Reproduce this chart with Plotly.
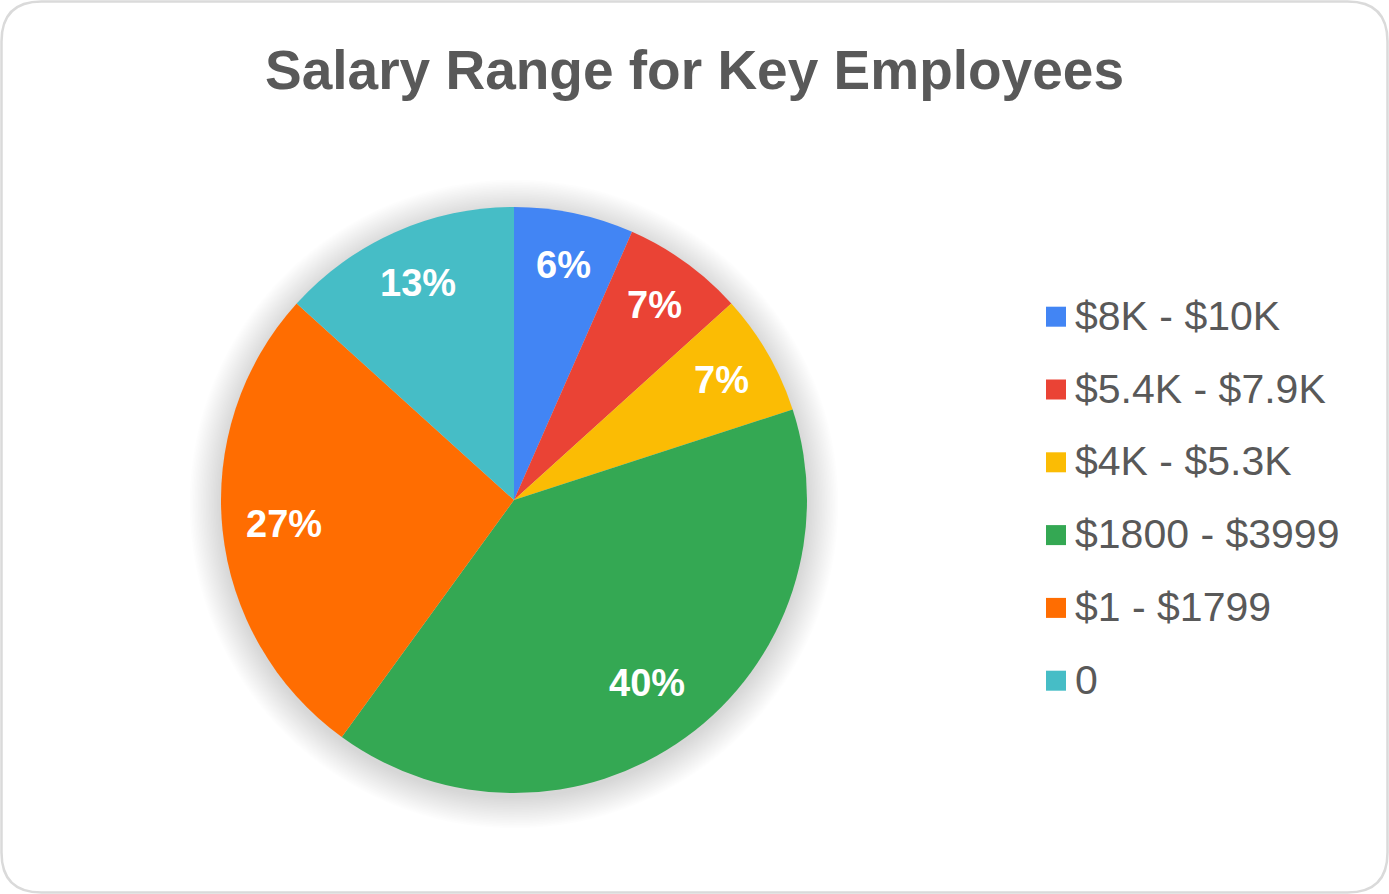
import math
import plotly.graph_objects as go

W, H = 1389, 894

categories = ["$8K - $10K", "$5.4K - $7.9K", "$4K - $5.3K", "$1800 - $3999", "$1 - $1799", "0"]
shares = [6.6, 6.7, 6.7, 40.0, 26.7, 13.3]
share_labels = ["6%", "7%", "7%", "40%", "27%", "13%"]
colors = ["#4285F4", "#EA4335", "#FBBC04", "#34A853", "#FF6D01", "#46BDC6"]
title_text = "Salary Range for Key Employees"

FONT = "Liberation Sans, Arial, sans-serif"

# pie geometry in pixels
cx, cy, R = 514, 500, 293

def px(x):
    return x / W

def py(y):
    return 1 - y / H

fig = go.Figure()
fig.add_trace(go.Pie(
    labels=categories,
    values=shares,
    textinfo="none",
    marker=dict(colors=colors, line=dict(width=0)),
    sort=False,
    direction="clockwise",
    rotation=0,
    showlegend=False,
    hoverinfo="label+percent",
    domain=dict(x=[px(cx - R), px(cx + R)], y=[py(cy + R), py(cy - R)]),
))

shapes = []
annotations = []

# soft shadow around the pie
for i in range(20):
    r = R + 1 + i * 1.6
    shapes.append(dict(
        type="circle", xref="paper", yref="paper", layer="below",
        x0=px(cx - r), x1=px(cx + r), y0=py(cy + 4 + r), y1=py(cy + 4 - r),
        fillcolor="rgba(0,0,0,0.0075)", line=dict(width=0),
    ))

# slice labels placed at the middle angle of each slice, computed from the data
total = sum(shares)
cum = 0.0
for val, lab in zip(shares, share_labels):
    frac = val / total
    mid = (cum + val / 2) / total * 2 * math.pi
    cum += val
    rf = 0.83 - 0.15 * frac  # larger slices sit slightly closer to the centre
    lx = cx + rf * R * math.sin(mid)
    ly = cy - rf * R * math.cos(mid)
    annotations.append(dict(
        xref="paper", yref="paper", x=px(lx), y=py(ly),
        xanchor="center", yanchor="middle", showarrow=False, text=lab,
        font=dict(family=FONT, size=38, color="white", weight="bold"),
    ))

# rounded border
rr = 40
x0b, y0b, x1b, y1b = 1.5, 1.5, W - 1.5, H - 1.5
path = (
    f"M {px(x0b + rr)},{py(y0b)} L {px(x1b - rr)},{py(y0b)} "
    f"Q {px(x1b)},{py(y0b)} {px(x1b)},{py(y0b + rr)} "
    f"L {px(x1b)},{py(y1b - rr)} Q {px(x1b)},{py(y1b)} {px(x1b - rr)},{py(y1b)} "
    f"L {px(x0b + rr)},{py(y1b)} Q {px(x0b)},{py(y1b)} {px(x0b)},{py(y1b - rr)} "
    f"L {px(x0b)},{py(y0b + rr)} Q {px(x0b)},{py(y0b)} {px(x0b + rr)},{py(y0b)} Z"
)
shapes.append(dict(type="path", xref="paper", yref="paper", path=path,
                   line=dict(color="#DADADA", width=2.5), layer="above"))

# custom legend
leg_x, leg_y0, leg_dy, sq = 1046, 316.7, 72.8, 20
for i, (cat, col) in enumerate(zip(categories, colors)):
    yc = leg_y0 + i * leg_dy
    shapes.append(dict(type="rect", xref="paper", yref="paper",
                       x0=px(leg_x), x1=px(leg_x + sq), y0=py(yc + sq / 2), y1=py(yc - sq / 2),
                       fillcolor=col, line=dict(width=0)))
    annotations.append(dict(
        xref="paper", yref="paper", x=px(leg_x + 27), y=py(yc - 1),
        xanchor="left", yanchor="middle", showarrow=False, text=cat,
        font=dict(family=FONT, size=41, color="#595959"),
    ))

fig.update_layout(
    width=W, height=H,
    margin=dict(l=0, r=0, t=0, b=0),
    paper_bgcolor="white",
    title=dict(text=title_text, x=0.5, xanchor="center", y=py(70), yanchor="middle",
               font=dict(family=FONT, size=55, color="#595959", weight="bold")),
    shapes=shapes,
    annotations=annotations,
)

fig.write_html("out.html", config={"displayModeBar": False},
               post_script="document.body.style.margin='0';")
